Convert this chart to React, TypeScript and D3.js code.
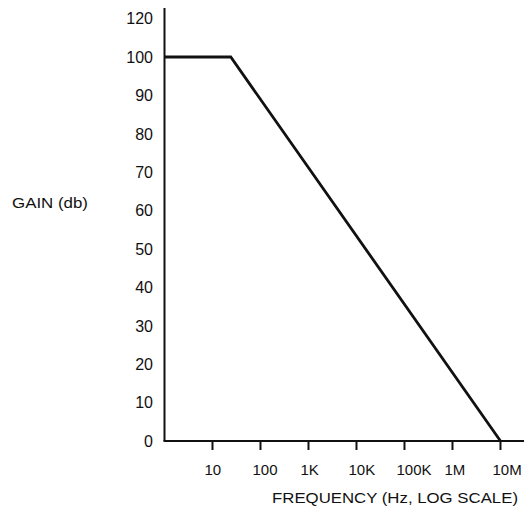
import React from "react";
import * as d3 from "d3";

const yTickValues = [0, 10, 20, 30, 40, 50, 60, 70, 80, 90, 100, 110];
const yTickLabels = ["0", "10", "20", "30", "40", "50", "60", "70", "80", "90", "100", "120"];
const xTickValues = [1e1, 1e2, 1e3, 1e4, 1e5, 1e6, 1e7];
const xTickLabels = ["10", "100", "1K", "10K", "100K", "1M", "10M"];
const responseFreq = [1, 24, 1e7];
const responseGain = [100, 100, 0];

const W = 524;
const H = 506;
const FONT = "'Liberation Sans', Arial, Helvetica, sans-serif";

export default function App() {
  const x = d3.scaleLog().domain([1, Math.pow(10, 7.49)]).range([164.5, 524]);
  const y = d3.scaleLinear().domain([0, 112.5]).range([441, 9]);
  const pts: [number, number][] = responseFreq.map((f, i) => [f, responseGain[i]]);
  const line = d3
    .line<[number, number]>()
    .x((d) => x(d[0]))
    .y((d) => y(d[1]));
  const x0 = x(1);
  const y0 = y(0);
  return (
    <svg
      width={W}
      height={H}
      style={{ position: "absolute", left: 0, top: 0, background: "#fff" }}
      fontFamily={FONT}
    >
      <rect x={0} y={0} width={W} height={H} fill="#fff" />
      {/* y axis */}
      <line x1={x0} y1={8} x2={x0} y2={y0} stroke="#111" strokeWidth={2} />
      {/* x axis */}
      <line x1={x0 - 1} y1={y0} x2={W} y2={y0} stroke="#111" strokeWidth={2} />
      {yTickValues.map((v, i) => (
        <text
          key={"y" + v}
          x={153}
          y={y(v)}
          dy="0.36em"
          textAnchor="end"
          fontSize={16}
          fill="#111"
        >
          {yTickLabels[i]}
        </text>
      ))}
      {xTickValues.map((v, i) => (
        <g key={"x" + v}>
          <line x1={x(v)} y1={y0} x2={x(v)} y2={y0 + 9} stroke="#111" strokeWidth={2} />
          <text x={x(v) - 8} y={475} textAnchor="start" fontSize={15} fill="#111">
            {xTickLabels[i]}
          </text>
        </g>
      ))}
      <path d={line(pts) || ""} fill="none" stroke="#111" strokeWidth={2.8} strokeLinejoin="miter" />
      <text
        x={272}
        y={503}
        fontSize={14}
        fill="#111"
        textLength={246}
        lengthAdjust="spacingAndGlyphs"
      >
        FREQUENCY (Hz, LOG SCALE)
      </text>
      <text
        x={12}
        y={208}
        fontSize={14}
        fill="#111"
        textLength={76}
        lengthAdjust="spacingAndGlyphs"
      >
        GAIN (db)
      </text>
    </svg>
  );
}
